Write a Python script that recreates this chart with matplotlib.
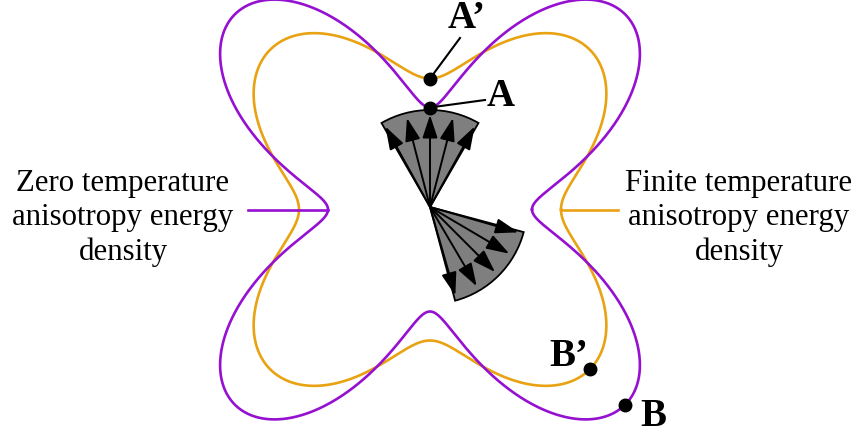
import numpy as np
import matplotlib
matplotlib.use("Agg")
import matplotlib.pyplot as plt
from matplotlib.patches import Wedge, FancyArrowPatch, ArrowStyle

# Anisotropy energy density, r(phi) = base + amp * sin^2(2 phi)
zero_T = {"base": 102.0, "amp": 174.0}
finite_T = {"base": 131.0, "amp": 95.0}

# Directions of the moment fans (degrees) and spread of the moments within a fan
fan_centres = [90.0, -45.0]
fan_offsets = [-29.0, -14.5, 0.0, 14.5, 29.0]
fan_half_width = 30.0

# Labelled points: (name, curve, angle in degrees)
points = [("A", "zero", 90.0), ("A'", "finite", 90.0),
          ("B", "zero", -45.0), ("B'", "finite", -45.0)]

left_label = "Zero temperature\nanisotropy energy\ndensity"
right_label = "Finite temperature\nanisotropy energy\ndensity"

PURPLE = "#9510D0"
ORANGE = "#E8A212"

W, H = 858, 434
fig = plt.figure(figsize=(W / 100, H / 100), dpi=100)
ax = fig.add_axes([0, 0, 1, 1])
ax.set_xlim(0, W)
ax.set_ylim(H, 0)
ax.set_aspect("equal")
ax.axis("off")

cx, cy = 430.0, 209.5       # centre of the energy surfaces
ox, oy = 430.0, 207.0       # common origin of the moment fans


def radius(curve, phi):
    return curve["base"] + curve["amp"] * np.sin(2 * phi) ** 2


def to_xy(r, phi, x0=cx, y0=cy):
    return x0 + r * np.cos(phi), y0 - r * np.sin(phi)


phi = np.linspace(0, 2 * np.pi, 1441)
for curve, col in [(finite_T, ORANGE), (zero_T, PURPLE)]:
    x, y = to_xy(radius(curve, phi), phi)
    ax.plot(x, y, color=col, lw=1.9, solid_joinstyle="round", zorder=2)

# Fans of thermally fluctuating moments
fan_r = 97.0
arrow_len = 92.0
style = ArrowStyle("-|>", head_length=1.0, head_width=0.33)
for c in fan_centres:
    w = Wedge((ox, oy), fan_r, -(c + fan_half_width), -(c - fan_half_width),
              facecolor="#7f7f7f", edgecolor="black", lw=1.3, zorder=3)
    ax.add_patch(w)
    for off in fan_offsets:
        a = np.deg2rad(c + off)
        tx, ty = to_xy(arrow_len, a, ox, oy)
        ax.add_patch(FancyArrowPatch((ox, oy), (tx, ty), arrowstyle=style,
                                     mutation_scale=14, color="black", lw=1.4,
                                     shrinkA=0, shrinkB=0, zorder=4))

# Marked points on the two surfaces
curves = {"zero": zero_T, "finite": finite_T}
pos = {}
for name, key, ang in points:
    a = np.deg2rad(ang)
    px, py = to_xy(radius(curves[key], a), a)
    pos[name] = (px, py)
    ax.plot(px, py, "o", color="black", ms=9, zorder=6)

bold = dict(family="Liberation Serif", fontweight="bold", fontsize=28,
            color="black", zorder=7)
# leader lines from A and A'
ax.plot([pos["A'"][0], 460], [pos["A'"][1], 38], color="black", lw=1.5, zorder=5)
ax.plot([pos["A"][0], 485], [pos["A"][1], 100], color="black", lw=1.5, zorder=5)
ax.text(467, 19, "A\u2019", ha="center", va="center", **bold)
ax.text(501, 97, "A", ha="center", va="center", **bold)
ax.text(569, 356, "B\u2019", ha="center", va="center", **bold)
ax.text(653, 416, "B", ha="center", va="center", **bold)

# Legend-style labels with short connector lines
ax.plot([248, cx - zero_T["base"]], [cy, cy], color=PURPLE, lw=1.9, zorder=2)
ax.plot([cx + finite_T["base"], 618], [cy, cy], color=ORANGE, lw=1.9, zorder=2)

body = dict(family="Liberation Serif", fontsize=22.2, color="black",
            ha="center", va="center", linespacing=1.25)
ax.text(123, 218, left_label, **body)
ax.text(739, 218, right_label, **body)

fig.savefig("out.png", dpi=100)
